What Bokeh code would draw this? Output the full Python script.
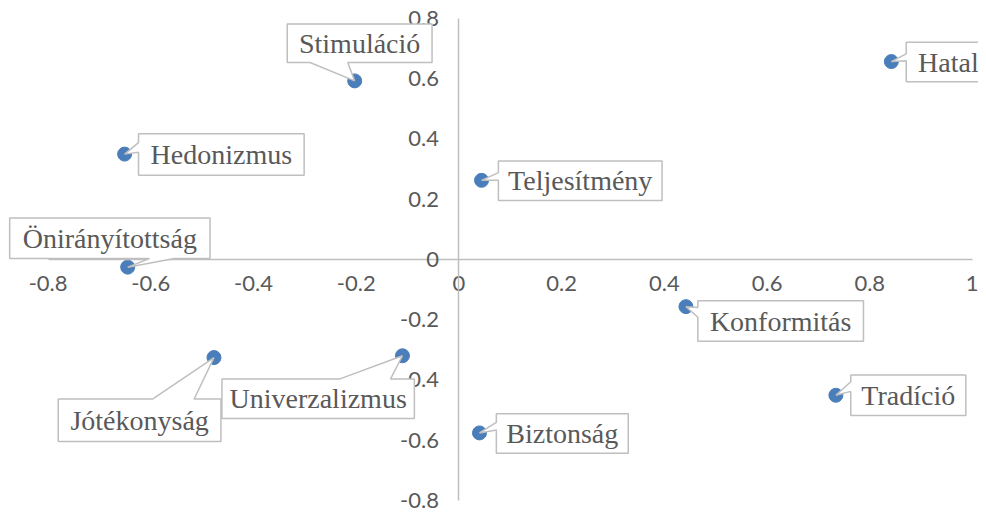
from bokeh.plotting import figure
from bokeh.models import FixedTicker, CustomJSTickFormatter, Range1d, ColumnDataSource
from bokeh.core.properties import value
from bokeh.embed import file_html
from bokeh.resources import INLINE

# ---- data ----
names = ["Hatalom", "Stimuláció", "Hedonizmus", "Teljesítmény", "Önirányítottság",
         "Konformitás", "Univerzalizmus", "Jótékonyság", "Tradíció", "Biztonság"]
x_vals = [0.842, -0.203, -0.651, 0.044, -0.645, 0.442, -0.110, -0.477, 0.734, 0.040]
y_vals = [0.656, 0.592, 0.349, 0.262, -0.026, -0.157, -0.320, -0.326, -0.451, -0.576]
x_ticks = [-0.8, -0.6, -0.4, -0.2, 0, 0.2, 0.4, 0.6, 0.8, 1.0]
y_ticks = [-0.8, -0.6, -0.4, -0.2, 0, 0.2, 0.4, 0.6, 0.8]

# ---- label callout layout (pixels relative to the point) ----
# (left, top, width, height, wedge side, wedge start, wedge end)
callout_layout = [
    (15, -20, 121, 41, "left", 12, 19),
    (-68, -59, 146, 40, "bottom", 23, 61),
    (14, -21, 167, 43, "left", 9, 19),
    (17, -20, 165, 41, "left", 12, 20),
    (-119, -51, 202, 42, "bottom", 141, 166),
    (12, -6, 167, 42, "left", 7, 17),
    (-182, 24, 194, 41, "top", 119, 170),
    (-157, 43, 164, 44, "top", 95, 137),
    (15, -21, 116, 42, "left", 7, 17),
    (17, -20, 133, 41, "left", 9, 17),
]

W, H = 978, 516
x_start, x_end = -0.8927, 1.0117
y_start, y_end = -0.8533, 0.8587
sx = W / (x_end - x_start)
sy = H / (y_end - y_start)
fx = sx / 517.76
fy = sy / 312.5

p = figure(width=W, height=H, output_backend="svg", toolbar_location=None,
           x_range=Range1d(x_start, x_end), y_range=Range1d(y_start, y_end),
           min_border=0, min_border_left=0, min_border_right=0,
           min_border_top=0, min_border_bottom=0)
p.outline_line_color = None
p.grid.visible = False
p.background_fill_color = "white"
p.border_fill_color = "white"

fmt = CustomJSTickFormatter(code="""
let s = tick.toFixed(1);
if (s.endsWith('.0')) s = s.slice(0, -2);
if (s === '-0') s = '0';
return s;
""")

for ax, ticks, standoff in ((p.xaxis[0], x_ticks, 17), (p.yaxis[0], y_ticks, 20)):
    ax.fixed_location = 0
    ax.ticker = FixedTicker(ticks=ticks, minor_ticks=[])
    ax.formatter = fmt
    ax.major_tick_in = 0
    ax.major_tick_out = 0
    ax.minor_tick_in = 0
    ax.minor_tick_out = 0
    ax.axis_line_color = "#bfbfbf"
    ax.axis_line_width = 1.5
    ax.major_label_text_font = "Lato"
    ax.major_label_text_font_size = "22px"
    ax.major_label_text_color = "#595959"
    ax.major_label_standoff = standoff
p.xaxis[0].bounds = (x_ticks[0], x_ticks[-1])
p.yaxis[0].bounds = (y_ticks[0], y_ticks[-1])

# points
p.scatter(x=x_vals, y=y_vals, size=14, fill_color="#4a7ebb", line_color="#4a7ebb")


def to_data(u, v):
    return x_start + u / sx, y_end - v / sy


poly_xs, poly_ys, tx, ty = [], [], [], []
for x, y, (L, T, bw, bh, side, a, b) in zip(x_vals, y_vals, callout_layout):
    px = (x - x_start) * sx
    py = (y_end - y) * sy
    L, bw, T, bh = L * fx, bw * fx, T * fy, bh * fy
    if side in ("top", "bottom"):
        a, b = a * fx, b * fx
    else:
        a, b = a * fy, b * fy
    x0, y0 = px + L, py + T
    x1, y1 = x0 + bw, y0 + bh
    pts = [(x0, y0)]
    if side == "top":
        pts += [(x0 + a, y0), (px, py), (x0 + b, y0)]
    pts += [(x1, y0), (x1, y1)]
    if side == "bottom":
        pts += [(x0 + b, y1), (px, py), (x0 + a, y1)]
    pts += [(x0, y1)]
    if side == "left":
        pts += [(x0, y0 + b), (px, py), (x0, y0 + a)]
    dpts = [to_data(u, v) for u, v in pts]
    poly_xs.append([d[0] for d in dpts])
    poly_ys.append([d[1] for d in dpts])
    cx, cy = to_data(x0 + bw / 2, y0 + bh / 2)
    tx.append(cx)
    ty.append(cy)

p.patches(xs=poly_xs, ys=poly_ys, fill_color="white", line_color="#bfbfbf",
          line_width=1.5, level="overlay")
src = ColumnDataSource(dict(x=tx, y=ty, t=names))
p.text(x="x", y="y", text="t", source=src, text_font=value("Liberation Serif"),
       text_font_size="28px", text_color="#595959", text_align="center",
       text_baseline="middle", level="overlay")

open("out.html", "w").write(file_html(p, INLINE))
